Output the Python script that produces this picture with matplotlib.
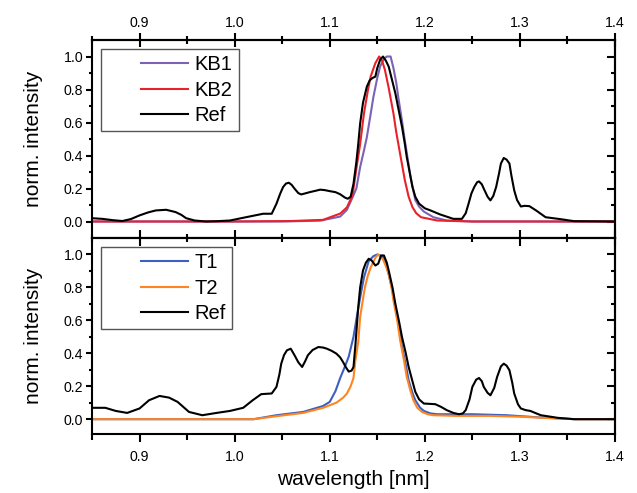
import numpy as np
import matplotlib
matplotlib.use("Agg")
import matplotlib.pyplot as plt
from matplotlib.legend_handler import HandlerLine2D

plt.rcParams['font.family'] = ['Liberation Sans', 'DejaVu Sans']

# ---------------- data ----------------
ref_top_x = [0.850, 0.861, 0.872, 0.882, 0.891, 0.900, 0.909, 0.917, 0.928, 0.938, 0.944, 0.949,
             0.958, 0.970, 0.982, 0.995, 1.012, 1.030, 1.039, 1.044, 1.048, 1.051, 1.054, 1.057,
             1.060, 1.063, 1.067, 1.070, 1.074, 1.079, 1.085, 1.090, 1.095, 1.100, 1.106, 1.111,
             1.116, 1.119, 1.122, 1.125, 1.128, 1.130, 1.132, 1.135, 1.139, 1.142, 1.145, 1.148,
             1.150, 1.153, 1.156, 1.159, 1.162, 1.165, 1.169, 1.172, 1.176, 1.179, 1.181, 1.184,
             1.187, 1.190, 1.194, 1.200, 1.206, 1.216, 1.230, 1.239, 1.243, 1.246, 1.249, 1.252,
             1.255, 1.257, 1.260, 1.262, 1.266, 1.269, 1.272, 1.275, 1.278, 1.280, 1.283, 1.286,
             1.289, 1.291, 1.294, 1.297, 1.301, 1.305, 1.310, 1.317, 1.327, 1.343, 1.357, 1.400]
ref_top_y = [0.020, 0.016, 0.008, 0.003, 0.015, 0.037, 0.055, 0.067, 0.071, 0.057, 0.040, 0.020,
             0.006, 0.000, 0.002, 0.006, 0.026, 0.047, 0.047, 0.108, 0.170, 0.209, 0.230, 0.235,
             0.222, 0.199, 0.172, 0.164, 0.170, 0.178, 0.186, 0.193, 0.190, 0.184, 0.178, 0.165,
             0.145, 0.138, 0.150, 0.229, 0.360, 0.470, 0.595, 0.720, 0.817, 0.855, 0.870, 0.878,
             0.930, 0.980, 1.000, 0.975, 0.939, 0.870, 0.777, 0.690, 0.574, 0.470, 0.391, 0.300,
             0.209, 0.150, 0.108, 0.080, 0.067, 0.043, 0.016, 0.016, 0.050, 0.108, 0.170, 0.209,
             0.238, 0.243, 0.225, 0.199, 0.150, 0.128, 0.155, 0.209, 0.290, 0.351, 0.385, 0.375,
             0.351, 0.280, 0.189, 0.130, 0.091, 0.095, 0.093, 0.067, 0.026, 0.014, 0.002, 0.000]

kb1_x = [0.850, 1.050, 1.090, 1.111, 1.118, 1.122, 1.128, 1.132, 1.136, 1.139, 1.143, 1.146,
         1.150, 1.153, 1.157, 1.160, 1.164, 1.167, 1.170, 1.172, 1.176, 1.179, 1.182, 1.185,
         1.190, 1.194, 1.199, 1.209, 1.223, 1.250, 1.400]
kb1_y = [0.000, 0.000, 0.005, 0.030, 0.070, 0.120, 0.200, 0.330, 0.430, 0.510, 0.650, 0.757,
         0.870, 0.940, 0.985, 1.000, 1.000, 0.930, 0.840, 0.757, 0.610, 0.490, 0.380, 0.270,
         0.130, 0.090, 0.060, 0.026, 0.006, 0.000, 0.000]

kb2_x = [0.850, 1.000, 1.060, 1.093, 1.111, 1.118, 1.124, 1.128, 1.132, 1.136, 1.140, 1.143,
         1.148, 1.152, 1.155, 1.158, 1.162, 1.167, 1.170, 1.174, 1.179, 1.183, 1.187, 1.191,
         1.196, 1.213, 1.250, 1.400]
kb2_y = [0.000, 0.000, 0.003, 0.010, 0.048, 0.085, 0.160, 0.320, 0.470, 0.655, 0.790, 0.878,
         0.960, 1.000, 0.975, 0.920, 0.810, 0.655, 0.540, 0.410, 0.250, 0.150, 0.087, 0.050,
         0.026, 0.006, 0.000, 0.000]

ref_bot_x = [0.850, 0.864, 0.875, 0.887, 0.900, 0.910, 0.921, 0.931, 0.940, 0.952, 0.966, 0.981,
             0.995, 1.009, 1.019, 1.028, 1.039, 1.044, 1.047, 1.049, 1.052, 1.055, 1.059, 1.063,
             1.067, 1.071, 1.074, 1.077, 1.082, 1.088, 1.093, 1.097, 1.102, 1.107, 1.111, 1.114,
             1.117, 1.120, 1.123, 1.125, 1.127, 1.130, 1.132, 1.135, 1.138, 1.141, 1.144, 1.148,
             1.151, 1.154, 1.157, 1.160, 1.162, 1.166, 1.169, 1.173, 1.176, 1.180, 1.183, 1.187,
             1.190, 1.194, 1.199, 1.205, 1.211, 1.217, 1.223, 1.230, 1.236, 1.240, 1.243, 1.247,
             1.250, 1.254, 1.257, 1.260, 1.262, 1.266, 1.269, 1.273, 1.276, 1.280, 1.283, 1.286,
             1.289, 1.292, 1.294, 1.298, 1.301, 1.306, 1.311, 1.316, 1.322, 1.340, 1.357, 1.400]
ref_bot_y = [0.069, 0.069, 0.050, 0.038, 0.065, 0.115, 0.141, 0.131, 0.105, 0.044, 0.024, 0.038,
             0.050, 0.069, 0.115, 0.152, 0.156, 0.196, 0.270, 0.337, 0.390, 0.418, 0.428, 0.388,
             0.345, 0.317, 0.350, 0.388, 0.420, 0.438, 0.435, 0.428, 0.415, 0.398, 0.375, 0.347,
             0.315, 0.289, 0.295, 0.317, 0.450, 0.680, 0.800, 0.903, 0.950, 0.974, 0.964, 0.933,
             0.944, 0.994, 0.994, 0.950, 0.903, 0.800, 0.701, 0.590, 0.499, 0.400, 0.317, 0.230,
             0.166, 0.120, 0.095, 0.093, 0.091, 0.075, 0.055, 0.038, 0.030, 0.035, 0.055, 0.120,
             0.196, 0.240, 0.250, 0.230, 0.196, 0.160, 0.145, 0.190, 0.256, 0.320, 0.337, 0.325,
             0.297, 0.220, 0.156, 0.090, 0.065, 0.055, 0.050, 0.038, 0.024, 0.008, 0.000, 0.000]

t1_x = [0.850, 1.020, 1.044, 1.072, 1.093, 1.100, 1.106, 1.111, 1.116, 1.120, 1.125, 1.129,
        1.133, 1.136, 1.141, 1.146, 1.150, 1.155, 1.159, 1.162, 1.166, 1.169, 1.173, 1.176,
        1.180, 1.183, 1.187, 1.190, 1.195, 1.199, 1.206, 1.213, 1.251, 1.286, 1.322, 1.357,
        1.400]
t1_y = [0.000, 0.000, 0.024, 0.044, 0.080, 0.105, 0.170, 0.250, 0.320, 0.380, 0.500, 0.640,
        0.770, 0.860, 0.960, 0.990, 1.000, 0.990, 0.950, 0.880, 0.780, 0.680, 0.550, 0.440,
        0.330, 0.236, 0.160, 0.115, 0.070, 0.050, 0.035, 0.030, 0.030, 0.024, 0.010, 0.000,
        0.000]

t2_x = [0.850, 1.020, 1.044, 1.072, 1.093, 1.107, 1.114, 1.118, 1.122, 1.125, 1.127, 1.130,
        1.132, 1.135, 1.137, 1.140, 1.143, 1.148, 1.151, 1.156, 1.159, 1.162, 1.165, 1.167,
        1.171, 1.174, 1.178, 1.181, 1.185, 1.188, 1.192, 1.197, 1.203, 1.209, 1.233, 1.269,
        1.304, 1.340, 1.360, 1.400]
t2_y = [0.000, 0.000, 0.018, 0.038, 0.069, 0.100, 0.130, 0.155, 0.200, 0.250, 0.357, 0.470,
        0.620, 0.730, 0.800, 0.870, 0.920, 0.980, 1.000, 0.970, 0.930, 0.880, 0.800, 0.720,
        0.600, 0.480, 0.360, 0.256, 0.170, 0.115, 0.070, 0.044, 0.030, 0.024, 0.020, 0.020,
        0.014, 0.004, 0.000, 0.000]

xticks = [0.9, 1.0, 1.1, 1.2, 1.3, 1.4]
yticks = [0.0, 0.2, 0.4, 0.6, 0.8, 1.0]

# ---------------- styling ----------------
C_KB1 = '#7b62b6'
C_KB2 = '#e8222b'
C_T1 = '#3d5fbf'
C_T2 = '#ff8522'
LW = 1.5
SP = 1.5
TICKFS = 10.2
LABFS = 15
LEGFS = 14.5


class PadHandler(HandlerLine2D):
    def create_artists(self, legend, orig_handle, xdescent, ydescent, width, height,
                       fontsize, trans):
        arts = super().create_artists(legend, orig_handle, xdescent, ydescent, width,
                                      height, fontsize, trans)
        for a in arts:
            xd = np.asarray(a.get_xdata(), float)
            yd = np.asarray(a.get_ydata(), float)
            if xd.size >= 2 and a.get_linestyle() not in ('None', 'none', ''):
                lo, hi = xd.min(), xd.max()
                a.set_data([lo + 0.42 * (hi - lo), hi], [yd[0], yd[0]])
        return arts


fig = plt.figure(figsize=(6.37, 4.93), dpi=100)
L, R = 92 / 637, 615 / 637
Y_TOP, Y_MID, Y_BOT = 1 - 40 / 493, 1 - 238 / 493, 1 - 434 / 493
ax1 = fig.add_axes([L, Y_MID, R - L, Y_TOP - Y_MID])
ax2 = fig.add_axes([L, Y_BOT, R - L, Y_MID - Y_BOT])

ax1.plot(kb1_x, kb1_y, color=C_KB1, lw=LW, label='KB1', solid_joinstyle='round')
ax1.plot(kb2_x, kb2_y, color=C_KB2, lw=LW, label='KB2', solid_joinstyle='round')
ax1.plot(ref_top_x, ref_top_y, color='black', lw=LW, label='Ref', solid_joinstyle='round')

ax2.plot(t1_x, t1_y, color=C_T1, lw=LW, label='T1', solid_joinstyle='round')
ax2.plot(t2_x, t2_y, color=C_T2, lw=LW, label='T2', solid_joinstyle='round')
ax2.plot(ref_bot_x, ref_bot_y, color='black', lw=LW, label='Ref', solid_joinstyle='round')

ax1.set_ylim(-0.1, 1.1)
ax2.set_ylim(-0.09, 1.1)

for ax in (ax1, ax2):
    ax.set_xlim(0.85, 1.4)
    ax.set_xticks(xticks)
    ax.set_xticks(np.arange(0.85, 1.4001, 0.05), minor=True)
    ax.set_yticks(yticks)
    ax.set_yticks(np.arange(-0.0, 1.0501, 0.1), minor=True)
    ax.set_yticklabels([f'{v:.1f}' for v in yticks])
    for s in ax.spines.values():
        s.set_linewidth(SP)
    ax.tick_params(axis='y', which='major', direction='out', length=4.3, width=SP,
                   labelsize=TICKFS, left=True, right=False, pad=2)
    ax.tick_params(axis='y', which='minor', direction='out', length=2.4, width=SP,
                   left=True, right=False)
    ax.set_ylabel('norm. intensity', fontsize=LABFS, labelpad=15)
    sr = ax.secondary_yaxis('right')
    sr.set_yticks(yticks)
    sr.set_yticks(np.arange(0.0, 1.0501, 0.1), minor=True)
    sr.tick_params(axis='y', which='major', direction='in', length=6, width=SP, labelright=False)
    sr.tick_params(axis='y', which='minor', direction='in', length=3.1, width=SP)
    sr.spines['right'].set_linewidth(SP)

# top panel: bottom ticks inward (shared boundary), top ticks in-out with labels
ax1.tick_params(axis='x', which='major', direction='in', length=5.8, width=SP,
                labelbottom=False, bottom=True, top=False)
ax1.tick_params(axis='x', which='minor', direction='in', length=3.2, width=SP,
                bottom=True, top=False)
st = ax1.secondary_xaxis('top')
st.set_xticks(xticks)
st.set_xticks(np.arange(0.85, 1.4001, 0.05), minor=True)
st.set_xticklabels([f'{v:.1f}' for v in xticks])
st.tick_params(axis='x', which='major', direction='inout', length=10, width=SP,
               labelsize=TICKFS, pad=2.5)
st.tick_params(axis='x', which='minor', direction='inout', length=5.8, width=SP)
st.spines['top'].set_linewidth(SP)

# bottom panel
ax2.tick_params(axis='x', which='major', direction='out', length=6, width=SP,
                labelsize=TICKFS, bottom=True, top=False, pad=5.5)
ax2.tick_params(axis='x', which='minor', direction='out', length=4.0, width=SP,
                bottom=True, top=False)
ax2.set_xticklabels([f'{v:.1f}' for v in xticks])
sb = ax2.secondary_xaxis('top')
sb.set_xticks(xticks)
sb.set_xticks(np.arange(0.85, 1.4001, 0.05), minor=True)
sb.tick_params(axis='x', which='major', direction='in', length=5.8, width=SP, labeltop=False)
sb.tick_params(axis='x', which='minor', direction='in', length=3.2, width=SP)
sb.spines['top'].set_linewidth(SP)
ax2.set_xlabel('wavelength [nm]', fontsize=LABFS, labelpad=4)

legkw = dict(loc='upper left', fontsize=LEGFS, frameon=True, fancybox=False,
             edgecolor='#555555', framealpha=1, borderpad=0.3, labelspacing=0.33,
             handlelength=4.0, handletextpad=0.35, borderaxespad=0.45,
             handler_map={matplotlib.lines.Line2D: PadHandler()})
lg1 = ax1.legend(**legkw)
lg2 = ax2.legend(**legkw)
for lg in (lg1, lg2):
    lg.get_frame().set_linewidth(1.0)

fig.savefig('out.png', dpi=100)
